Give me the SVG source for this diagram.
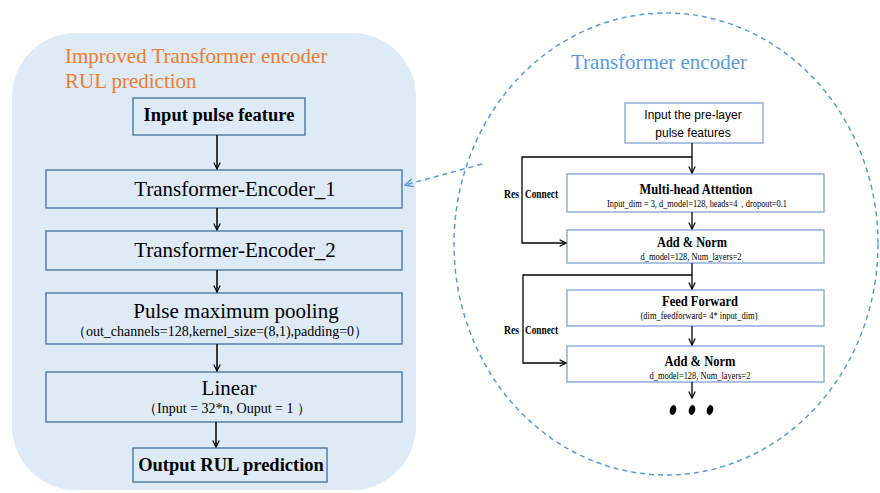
<svg xmlns="http://www.w3.org/2000/svg" width="880" height="493" viewBox="0 0 880 493">
  <defs>
    <style>
      text { font-family: "Liberation Serif", "DejaVu Serif", serif; fill: #000; }
      text.sans { font-family: "Liberation Sans", "DejaVu Sans", sans-serif; }
      .bold { font-weight: bold; }
      .lbox { fill: #DEEAF6; stroke: #41719C; stroke-width: 1.3; }
      .rbox { fill: #FFFFFF; stroke: #7FA3CF; stroke-width: 1.3; }
      .flow { stroke: #000; stroke-width: 1.5; fill: none; }
      .thin { stroke: #000; stroke-width: 1.3; fill: none; }
      .dash { stroke: #5B9BD5; stroke-width: 1.5; fill: none; stroke-dasharray: 5 4; }
    </style>
    <marker id="arr" viewBox="0 0 10 10" refX="9" refY="5" markerWidth="8" markerHeight="8" orient="auto" markerUnits="userSpaceOnUse">
      <path d="M1,1 L9,5 L1,9" fill="none" stroke="#000" stroke-width="1.5"/>
    </marker>
    <marker id="arrBlue" viewBox="0 0 10 10" refX="9" refY="5" markerWidth="10" markerHeight="10" orient="auto" markerUnits="userSpaceOnUse">
      <path d="M1,1 L9,5 L1,9" fill="none" stroke="#5B9BD5" stroke-width="1.5"/>
    </marker>
  </defs>

  <rect width="880" height="493" fill="#FFFFFF"/>

  <!-- Left panel: improved encoder pipeline -->
  <g id="left-panel">
    <rect x="12" y="33" width="404" height="457" rx="64" ry="64" fill="#DEEAF6"/>
    <text x="65" y="63" font-size="21" style="fill:#ED7D31">Improved Transformer encoder</text>
    <text x="65" y="88" font-size="21" style="fill:#ED7D31">RUL prediction</text>
  </g>

  <!-- Right panel: encoder layer detail -->
  <g id="right-panel">
    <ellipse class="dash" cx="666" cy="244" rx="212" ry="231"/>
    <text x="659" y="69" font-size="21" text-anchor="middle" style="fill:#5B9BD5">Transformer encoder</text>
  </g>

  <!-- Left nodes -->
  <g id="input-pulse-feature">
    <rect class="lbox" x="133" y="98" width="172" height="37"/>
    <text class="bold" x="219" y="121" font-size="18.5" text-anchor="middle">Input pulse feature</text>
  </g>
  <g id="transformer-encoder-1">
    <rect class="lbox" x="46" y="170" width="356" height="38"/>
    <text x="235" y="196" font-size="21" text-anchor="middle">Transformer-Encoder_1</text>
  </g>
  <g id="transformer-encoder-2">
    <rect class="lbox" x="46" y="231" width="356" height="39"/>
    <text x="235" y="257" font-size="21" text-anchor="middle">Transformer-Encoder_2</text>
  </g>
  <g id="pulse-max-pooling">
    <rect class="lbox" x="46" y="293" width="356" height="51"/>
    <text x="236" y="318" font-size="21" text-anchor="middle">Pulse maximum pooling</text>
    <text x="220" y="336" font-size="14" text-anchor="middle">（out_channels=128,kernel_size=(8,1),padding=0）</text>
  </g>
  <g id="linear">
    <rect class="lbox" x="46" y="372" width="356" height="50"/>
    <text x="229" y="395" font-size="21" text-anchor="middle">Linear</text>
    <text x="227" y="413" font-size="14" text-anchor="middle">（Input = 32*n, Ouput = 1 ）</text>
  </g>
  <g id="output-rul">
    <rect class="lbox" x="133" y="448" width="194" height="34"/>
    <text class="bold" x="231" y="471" font-size="18.5" text-anchor="middle">Output RUL prediction</text>
  </g>

  <!-- Right nodes -->
  <g id="pre-layer-input">
    <rect class="rbox" x="625" y="103" width="138" height="40"/>
    <text class="sans" x="693" y="119" font-size="12" text-anchor="middle">Input the pre-layer</text>
    <text class="sans" x="693" y="137" font-size="12" text-anchor="middle">pulse features</text>
  </g>
  <g id="multi-head-attention">
    <rect class="rbox" x="567" y="174" width="257" height="38"/>
    <text class="bold" x="696" y="194" font-size="15" text-anchor="middle" textLength="113" lengthAdjust="spacingAndGlyphs">Multi-head Attention</text>
    <text x="697" y="207" font-size="10" text-anchor="middle" textLength="180" lengthAdjust="spacingAndGlyphs">Input_dim = 3, d_model=128, heads=4，dropout=0.1</text>
  </g>
  <g id="add-norm-1">
    <rect class="rbox" x="567" y="230" width="257" height="33"/>
    <text class="bold" x="692" y="247" font-size="15" text-anchor="middle" textLength="70" lengthAdjust="spacingAndGlyphs">Add &amp; Norm</text>
    <text x="691" y="260" font-size="10" text-anchor="middle" textLength="101" lengthAdjust="spacingAndGlyphs">d_model=128, Num_layers=2</text>
  </g>
  <g id="feed-forward">
    <rect class="rbox" x="567" y="290" width="257" height="36"/>
    <text class="bold" x="700" y="306" font-size="15" text-anchor="middle" textLength="76" lengthAdjust="spacingAndGlyphs">Feed Forward</text>
    <text x="699" y="319" font-size="10" text-anchor="middle" textLength="117" lengthAdjust="spacingAndGlyphs">(dim_feedforward= 4* input_dim)</text>
  </g>
  <g id="add-norm-2">
    <rect class="rbox" x="567" y="346" width="257" height="36"/>
    <text class="bold" x="700" y="366" font-size="15" text-anchor="middle" textLength="71" lengthAdjust="spacingAndGlyphs">Add &amp; Norm</text>
    <text x="700" y="379" font-size="10" text-anchor="middle" textLength="101" lengthAdjust="spacingAndGlyphs">d_model=128, Num_layers=2</text>
  </g>
  <g id="continuation">
    <ellipse cx="673" cy="410" rx="3.2" ry="5" transform="rotate(15 673 410)"/>
    <ellipse cx="692" cy="410" rx="3.2" ry="5" transform="rotate(15 692 410)"/>
    <ellipse cx="710" cy="410" rx="3.2" ry="5" transform="rotate(15 710 410)"/>
  </g>

  <!-- Connectors -->
  <g id="connectors">
    <line class="flow" x1="217" y1="135" x2="217" y2="169" marker-end="url(#arr)"/>
    <line class="flow" x1="217" y1="208" x2="217" y2="230" marker-end="url(#arr)"/>
    <line class="flow" x1="217" y1="270" x2="217" y2="292" marker-end="url(#arr)"/>
    <line class="flow" x1="217" y1="344" x2="217" y2="371" marker-end="url(#arr)"/>
    <line class="flow" x1="216" y1="422" x2="216" y2="447" marker-end="url(#arr)"/>

    <line class="thin" x1="692" y1="143" x2="692" y2="173" marker-end="url(#arr)"/>
    <polyline class="thin" points="692,157 522,157 522,243 566,243" marker-end="url(#arr)"/>
    <line class="thin" x1="692" y1="212" x2="692" y2="229" marker-end="url(#arr)"/>
    <line class="thin" x1="692" y1="263" x2="692" y2="289" marker-end="url(#arr)"/>
    <polyline class="thin" points="692,275 523,275 523,363 566,363" marker-end="url(#arr)"/>
    <line class="thin" x1="692" y1="326" x2="692" y2="345" marker-end="url(#arr)"/>
    <line class="thin" x1="692" y1="382" x2="692" y2="398" marker-end="url(#arr)"/>

    <text class="bold" x="504" y="198" font-size="12" textLength="15" lengthAdjust="spacingAndGlyphs">Res</text>
    <text class="bold" x="525" y="198" font-size="12" textLength="33" lengthAdjust="spacingAndGlyphs">Connect</text>
    <text class="bold" x="504" y="334" font-size="12" textLength="15" lengthAdjust="spacingAndGlyphs">Res</text>
    <text class="bold" x="525" y="334" font-size="12" textLength="33" lengthAdjust="spacingAndGlyphs">Connect</text>

    <line class="dash" x1="482" y1="164" x2="405" y2="185" marker-end="url(#arrBlue)"/>
  </g>
</svg>
